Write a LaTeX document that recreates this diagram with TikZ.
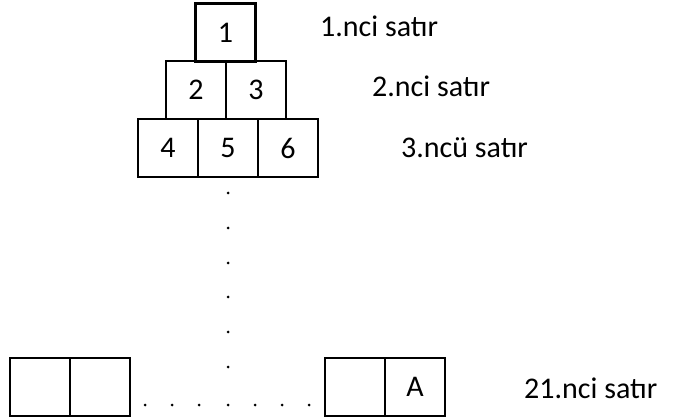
\documentclass[tikz,border=0pt]{standalone}
\usepackage{fontspec}
\setmainfont{Carlito}
\begin{document}
\begin{tikzpicture}[x=1pt,y=-1pt,
  cell/.style={draw=black,line width=2.8pt,minimum width=60pt,minimum height=58pt,inner sep=0pt,font=\fontsize{30}{34}\selectfont},
  lbl/.style={anchor=base west,inner sep=0pt,font=\fontsize{30}{34}\selectfont},
  dotmark/.style={circle,fill=black,inner sep=0pt,minimum size=3pt}]
\useasboundingbox (0,0) rectangle (677,419);
% pyramid
\node[cell] (c1) at (225.5,32.5) {1};
\node[cell] (c2) at (196,90) {2};
\node[cell] (c3) at (256,90) {3};
\node[cell] (c4) at (168,148) {4};
\node[cell] (c5) at (228,148) {5};
\node[cell] (c6) at (288,148) {6};
% bottom row
\node[cell] (b1) at (40,387) {};
\node[cell] (b2) at (100,387) {};
\node[cell] (b3) at (355,387) {};
\node[cell] (b4) at (415,387) {A};
% labels
\node[lbl] (l1) at (320,37) {1.nci satır};
\node[lbl] (l2) at (372,97) {2.nci satır};
\node[lbl] (l3) at (401,158) {3.ncü satır};
\node[lbl] (l21) at (524,398) {21.nci satır};
% vertical dots
\foreach \y [count=\i] in {193,228,263,297,332,367} \node[dotmark] (v\i) at (228,\y) {};
% horizontal dots
\foreach \x [count=\i] in {145,172,199,228,255,282,309} \node[dotmark] (h\i) at (\x,405) {};
\end{tikzpicture}
\end{document}
